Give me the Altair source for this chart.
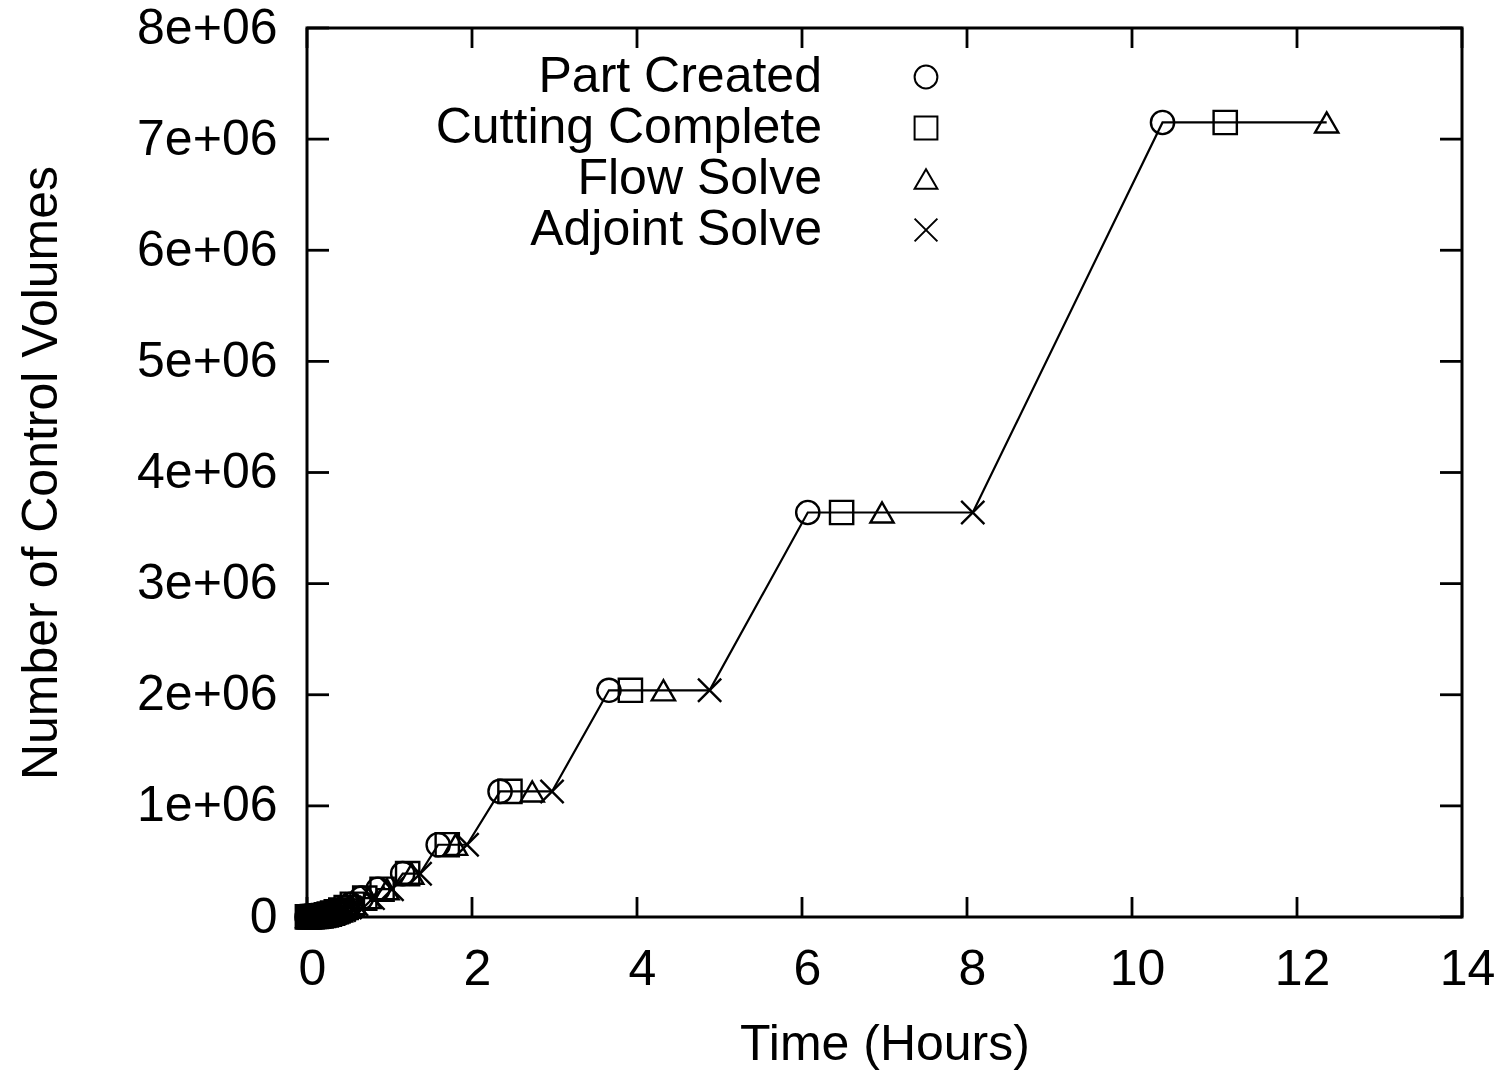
import altair as alt
import pandas as pd

# Mesh refinement history: one entry per adaptation cycle.
# Times (hours) at which each stage of the cycle finished, and the mesh size.
cycle_cells = [1.0e3, 1.5e3, 2.0e3, 3.0e3, 4.0e3, 5.5e3, 7.5e3, 1.0e4, 1.4e4,
               1.9e4, 2.6e4, 3.5e4, 4.7e4, 6.3e4, 8.5e4, 1.15e5, 1.7e5,
               2.5e5, 3.9e5, 6.5e5, 1.13e6, 2.04e6, 3.64e6, 7.15e6]
t_part = [0.000, 0.020, 0.040, 0.060, 0.085, 0.110, 0.135, 0.165, 0.195,
          0.225, 0.260, 0.300, 0.345, 0.395, 0.460, 0.530, 0.660,
          0.860, 1.16, 1.59, 2.34, 3.66, 6.07, 10.37]
t_cut = [0.005, 0.025, 0.045, 0.065, 0.090, 0.115, 0.140, 0.170, 0.200,
         0.235, 0.270, 0.310, 0.355, 0.410, 0.475, 0.550, 0.700,
         0.910, 1.22, 1.70, 2.46, 3.92, 6.48, 11.13]
t_flow = [0.010, 0.030, 0.050, 0.070, 0.095, 0.120, 0.150, 0.180, 0.210,
          0.245, 0.280, 0.325, 0.370, 0.430, 0.495, 0.575, 0.750,
          0.970, 1.27, 1.80, 2.73, 4.32, 6.97, 12.36]
t_adjoint = [0.015, 0.035, 0.055, 0.080, 0.105, 0.130, 0.160, 0.190, 0.220,
             0.255, 0.295, 0.340, 0.390, 0.450, 0.520, 0.600, 0.800,
             1.03, 1.37, 1.94, 2.97, 4.88, 8.07, None]

events = ["Part Created", "Cutting Complete", "Flow Solve", "Adjoint Solve"]
event_shapes = ["circle", "square", "triangle-up", "M-1,-1L1,1M-1,1L1,-1"]

x_ticks = [0, 2, 4, 6, 8, 10, 12, 14]
y_ticks = [0, 1e6, 2e6, 3e6, 4e6, 5e6, 6e6, 7e6, 8e6]

rows = []
for i, n in enumerate(cycle_cells):
    for ev, times in zip(events, [t_part, t_cut, t_flow, t_adjoint]):
        if times[i] is not None:
            rows.append({"time": times[i], "cells": n, "event": ev})
df = pd.DataFrame(rows).sort_values("time").reset_index(drop=True)
df["seq"] = range(len(df))

W, H = 1155, 889
FONT = "Liberation Sans"
FS = 50

xscale = alt.Scale(domain=[0, 14], nice=False, zero=False)
yscale = alt.Scale(domain=[0, 8e6], nice=False, zero=False)

base = alt.Chart(df)

line = base.mark_line(color="black", strokeWidth=2.2).encode(
    x=alt.X("time:Q", scale=xscale,
            axis=alt.Axis(values=x_ticks, format="d", title="Time (Hours)",
                          ticks=False, domain=False, grid=False,
                          labelFlush=False, labelOffset=5,
                          labelPadding=27, titlePadding=25)),
    y=alt.Y("cells:Q", scale=yscale,
            axis=alt.Axis(values=y_ticks, title="Number of Control Volumes",
                          ticks=False, domain=False, grid=False,
                          labelPadding=30, titlePadding=70,
                          labelExpr="datum.value == 0 ? '0' : format(datum.value / 1e6, 'd') + 'e+06'")),
    order="seq:Q",
)

points = base.mark_point(filled=False, color="black", strokeWidth=2.4, size=540,
                         opacity=1).encode(
    x=alt.X("time:Q", scale=xscale),
    y=alt.Y("cells:Q", scale=yscale),
    shape=alt.Shape("event:N", scale=alt.Scale(domain=events, range=event_shapes),
                    legend=None),
)

# Inward tick marks on all four sides of the frame
xt = alt.Chart(pd.DataFrame({"v": x_ticks}))
yt = alt.Chart(pd.DataFrame({"v": y_ticks}))
tick_style = dict(color="black", strokeWidth=2.8)
ticks = [
    xt.mark_rule(**tick_style).encode(x=alt.X("v:Q", scale=xscale), y=alt.value(H), y2=alt.value(H - 20)),
    xt.mark_rule(**tick_style).encode(x=alt.X("v:Q", scale=xscale), y=alt.value(0), y2=alt.value(20)),
    yt.mark_rule(**tick_style).encode(y=alt.Y("v:Q", scale=yscale), x=alt.value(0), x2=alt.value(22)),
    yt.mark_rule(**tick_style).encode(y=alt.Y("v:Q", scale=yscale), x=alt.value(W), x2=alt.value(W - 22)),
]

# Key in the upper-left: labels right-aligned, symbol to their right
key = []
for i, (ev, shp) in enumerate(zip(events, event_shapes)):
    ypix = 49 + i * 51
    key.append(alt.Chart(pd.DataFrame({"event": [ev]})).mark_text(
        align="right", baseline="middle", font=FONT, fontSize=FS, color="black"
    ).encode(text="event:N", x=alt.value(515), y=alt.value(ypix)))
    key.append(alt.Chart(pd.DataFrame({"event": [ev]})).mark_point(
        filled=False, color="black", strokeWidth=2, size=520, shape=shp, opacity=1
    ).encode(x=alt.value(619), y=alt.value(ypix)))

chart = alt.layer(line, points, *ticks, *key).properties(
    width=W, height=H,
    padding={"left": 307, "top": 28, "right": 43, "bottom": 154},
    autosize="none",
    background="white",
).configure_view(
    stroke="black", strokeWidth=3
).configure_axis(
    labelFont=FONT, titleFont=FONT, labelFontSize=FS, titleFontSize=FS,
    labelColor="black", titleColor="black", titleFontWeight="normal",
)

chart.save("out.html", embed_options={"renderer": "svg", "actions": False})
